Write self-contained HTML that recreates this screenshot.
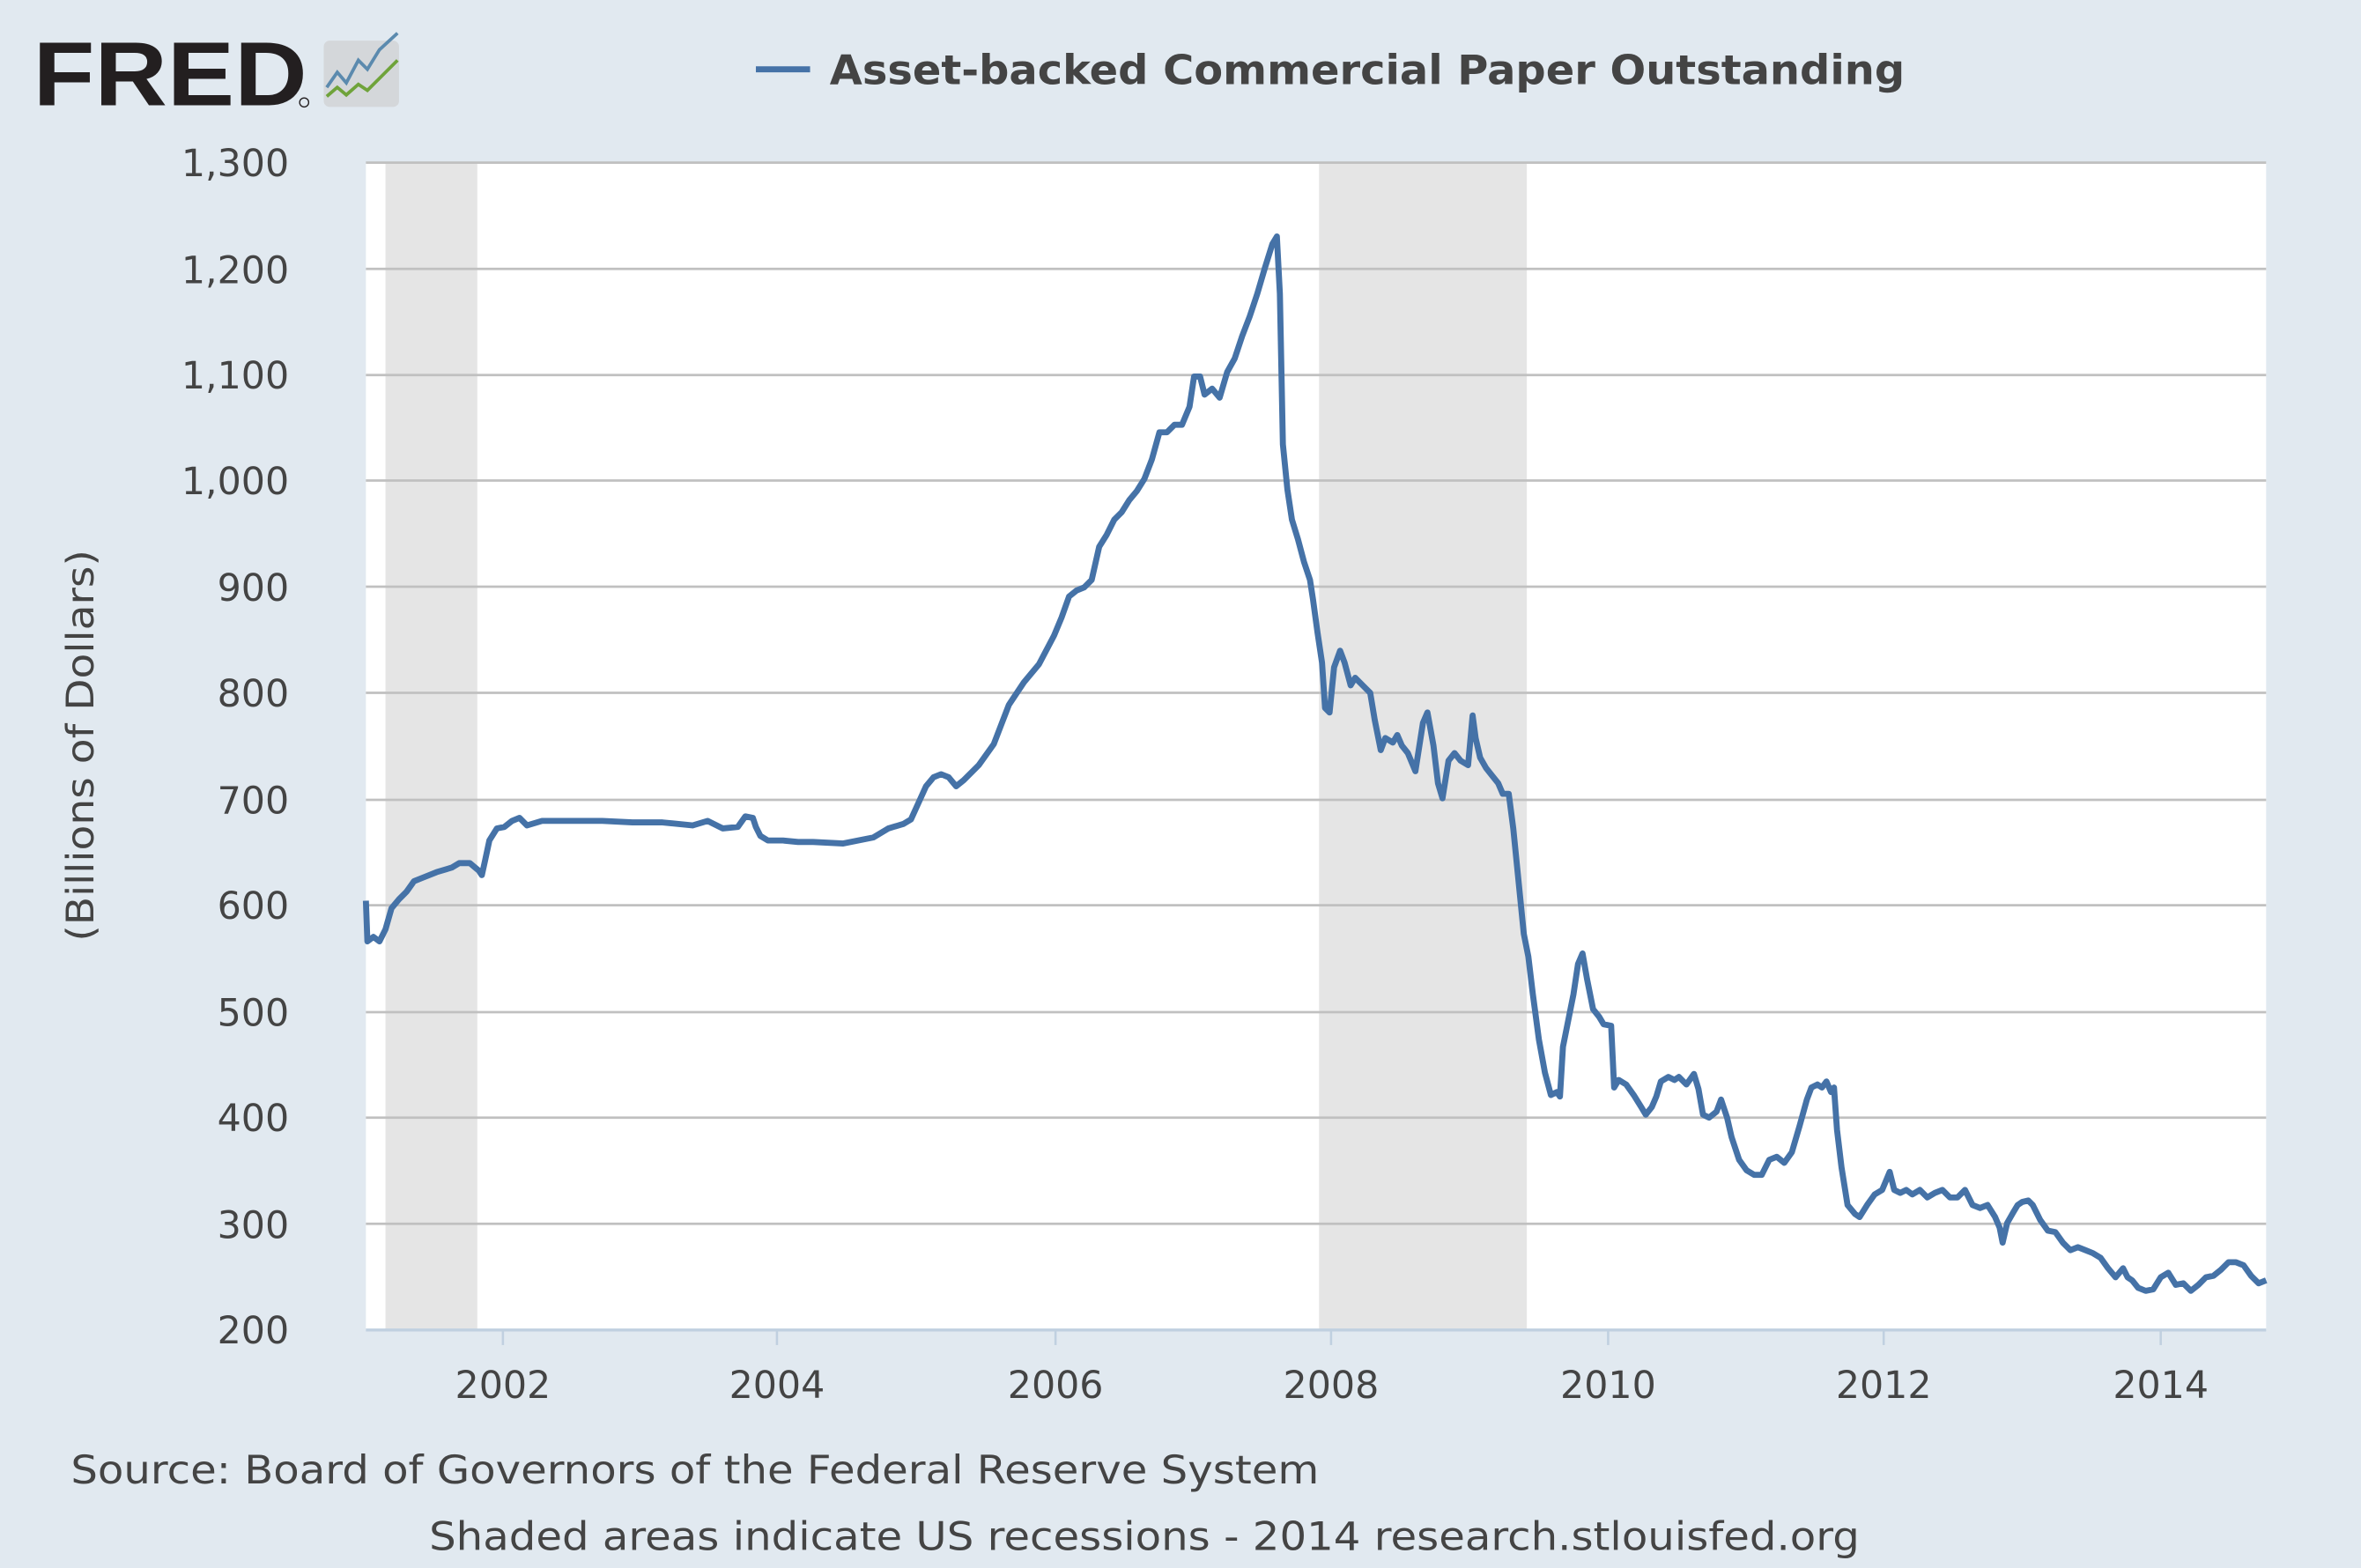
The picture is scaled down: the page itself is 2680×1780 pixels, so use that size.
<!DOCTYPE html>
<html><head><meta charset="utf-8"><style>
html,body{margin:0;padding:0;background:#e1e9f0;}
svg{display:block;}
text{font-family:"DejaVu Sans","Liberation Sans",sans-serif;}
</style></head><body>
<svg width="2680" height="1780" viewBox="0 0 1568 1041" preserveAspectRatio="none" xmlns="http://www.w3.org/2000/svg">
<rect x="0" y="0" width="1568" height="1041" fill="#e1e9f0"/>
<!-- logo -->
<text x="22" y="70" font-weight="900" font-size="60" fill="#231f20" textLength="182" lengthAdjust="spacingAndGlyphs" style="font-family:'Liberation Sans',sans-serif">FRED</text>
<circle cx="202" cy="68" r="3" fill="none" stroke="#231f20" stroke-width="0.8"/>
<rect x="215" y="27" width="50" height="44" rx="4" fill="#d4d7da"/>
<polyline points="217,58 224,48 230,55 238,40 244,46 252,33 264,22" fill="none" stroke="#5b8aae" stroke-width="2.2"/>
<polyline points="217,64 224,58 230,63 238,56 244,60 252,52 264,40" fill="none" stroke="#6fa33a" stroke-width="2.2"/>
<!-- legend -->
<line x1="502" y1="46" x2="538" y2="46" stroke="#4572a7" stroke-width="4"/>
<text x="551" y="56" font-weight="bold" font-size="27" fill="#444" textLength="714" lengthAdjust="spacingAndGlyphs">Asset-backed Commercial Paper Outstanding</text>
<!-- plot -->
<rect x="243" y="108" width="1262" height="775" fill="#fff"/>
<rect x="256" y="108" width="61" height="775" fill="#e5e5e5"/>
<rect x="876" y="108" width="138" height="775" fill="#e5e5e5"/>
<g stroke="#c0c0c0" stroke-width="1.6">
<line x1="243" x2="1505" y1="108" y2="108"/><line x1="243" x2="1505" y1="178.5" y2="178.5"/>
<line x1="243" x2="1505" y1="249" y2="249"/><line x1="243" x2="1505" y1="319" y2="319"/>
<line x1="243" x2="1505" y1="389.5" y2="389.5"/><line x1="243" x2="1505" y1="460" y2="460"/>
<line x1="243" x2="1505" y1="531" y2="531"/><line x1="243" x2="1505" y1="601" y2="601"/>
<line x1="243" x2="1505" y1="672" y2="672"/><line x1="243" x2="1505" y1="742" y2="742"/>
<line x1="243" x2="1505" y1="812.5" y2="812.5"/>
</g>
<line x1="243" x2="1505" y1="883" y2="883" stroke="#c0d0e0" stroke-width="2"/>
<g stroke="#c0d0e0" stroke-width="1.5">
<line x1="334" x2="334" y1="883" y2="893"/><line x1="516" x2="516" y1="883" y2="893"/>
<line x1="701" x2="701" y1="883" y2="893"/><line x1="884" x2="884" y1="883" y2="893"/>
<line x1="1068" x2="1068" y1="883" y2="893"/><line x1="1251" x2="1251" y1="883" y2="893"/>
<line x1="1435" x2="1435" y1="883" y2="893"/>
</g>
<g font-size="25" fill="#444" text-anchor="end">
<text x="192" y="117">1,300</text><text x="192" y="188">1,200</text><text x="192" y="258">1,100</text>
<text x="192" y="328">1,000</text><text x="192" y="399">900</text><text x="192" y="469">800</text>
<text x="192" y="540">700</text><text x="192" y="610">600</text><text x="192" y="681">500</text>
<text x="192" y="751">400</text><text x="192" y="822">300</text><text x="192" y="892">200</text>
</g>
<g font-size="25" fill="#444" text-anchor="middle">
<text x="334" y="928">2002</text><text x="516" y="928">2004</text><text x="701" y="928">2006</text>
<text x="884" y="928">2008</text><text x="1068" y="928">2010</text><text x="1251" y="928">2012</text>
<text x="1435" y="928">2014</text>
</g>
<text transform="translate(62,625) rotate(-90)" font-size="25" fill="#444" textLength="260" lengthAdjust="spacingAndGlyphs">(Billions of Dollars)</text>
<polyline fill="none" stroke="#4572a7" stroke-width="4" stroke-linejoin="round" points="243,598 244,625 248,622 252,625 256,617 260,603 265,597 270,592 275,585 280,583 290,579 300,576 305,573 312,573 318,578 320,581 322,572 325,558 330,550 335,549 340,545 345,543 350,548 360,545 380,545 400,545 420,546 440,546 460,548 470,545 480,550 490,549 495,542 500,543 502,549 505,555 510,558 520,558 530,559 540,559 560,560 580,556 590,550 600,547 605,544 610,533 615,522 620,516 625,514 630,516 635,522 640,518 650,508 660,494 665,481 670,468 680,453 690,441 700,422 705,410 710,396 715,392 720,390 725,385 730,363 735,355 740,345 745,340 750,332 755,326 760,318 765,305 770,287 775,287 780,282 785,282 790,270 793,250 797,250 800,262 805,258 810,264 815,247 820,238 825,223 830,210 835,195 840,178 845,162 848,157 850,195 852,295 855,325 858,345 862,358 866,373 870,385 872,398 875,420 878,440 880,470 883,473 886,443 890,432 893,440 897,455 900,450 905,455 910,460 913,478 917,498 920,490 925,493 928,488 931,495 935,500 940,512 945,480 948,473 952,495 955,520 958,530 962,505 966,500 970,505 975,508 978,475 980,490 983,503 987,510 991,515 995,520 998,527 1002,527 1005,550 1008,580 1012,620 1015,635 1018,660 1022,690 1026,712 1030,727 1034,725 1036,728 1038,695 1042,675 1045,660 1048,640 1051,633 1054,650 1058,670 1062,675 1065,680 1070,681 1072,722 1075,717 1080,720 1085,727 1090,735 1093,740 1097,735 1100,728 1103,718 1108,715 1112,717 1115,715 1120,720 1125,713 1128,723 1131,740 1135,742 1140,738 1143,730 1147,742 1150,755 1155,770 1160,777 1165,780 1170,780 1175,770 1180,768 1185,772 1190,765 1195,748 1200,730 1203,722 1207,720 1210,722 1213,718 1216,725 1218,722 1220,750 1223,775 1227,800 1232,806 1235,808 1240,800 1245,793 1250,790 1255,778 1258,790 1262,792 1266,790 1270,793 1275,790 1280,795 1285,792 1290,790 1295,795 1300,795 1305,790 1310,800 1315,802 1320,800 1325,808 1328,815 1330,825 1333,812 1337,805 1340,800 1343,798 1347,797 1350,800 1355,810 1360,817 1365,818 1370,825 1375,830 1380,828 1385,830 1390,832 1395,835 1400,842 1405,848 1410,842 1413,848 1416,850 1420,855 1425,857 1430,856 1435,848 1440,845 1445,853 1450,852 1455,857 1460,853 1465,848 1470,847 1475,843 1480,838 1485,838 1490,840 1495,847 1500,852 1505,850"/>
<text x="47" y="985" font-size="26" fill="#444" textLength="829" lengthAdjust="spacingAndGlyphs">Source: Board of Governors of the Federal Reserve System</text>
<text x="285" y="1029" font-size="26" fill="#444" textLength="950" lengthAdjust="spacingAndGlyphs">Shaded areas indicate US recessions - 2014 research.stlouisfed.org</text>
</svg>
</body></html>
